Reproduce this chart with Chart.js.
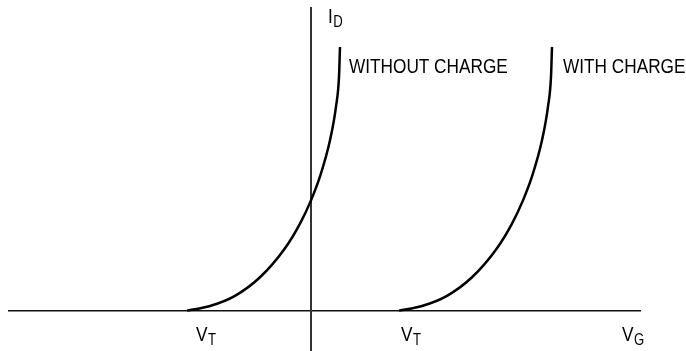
<!DOCTYPE html>
<html>
<head>
<meta charset="utf-8">
<title>I_D vs V_G</title>
<script src="https://cdn.jsdelivr.net/npm/chart.js@4/dist/chart.umd.min.js"></script>
<style>
    html, body { margin: 0; padding: 0; background: #fff; }
    #wrap { width: 686px; height: 351px; }
</style>
</head>
<body>
<div id="wrap"><canvas id="chart" width="686" height="351"></canvas></div>
<script>
// gate voltage (x) and drain current (y)
var vgWithout = [-12.4, -10.1, -7.6, -5.1, -2.6, -1.1, 0, 0.9, 1.9, 2.5, 2.8, 2.9];
var idWithout = [0, 0.46, 1.47, 3.31, 6.19, 8.63, 10.93, 13.3, 16.89, 20.23, 23.17, 26.13];
var vgWith = [8.8, 11.1, 13.6, 16.1, 18.6, 20.1, 21.2, 22.1, 23.1, 23.7, 24.0, 24.1];
var idWith = [0, 0.46, 1.47, 3.31, 6.19, 8.63, 10.93, 13.3, 16.89, 20.23, 23.17, 26.13];
var curveLabels = ['WITHOUT CHARGE', 'WITH CHARGE'];

var FONT = '"Liberation Sans", Arial, sans-serif';
var SQUEEZE = 0.82; // the original lettering is a condensed face

function toPoints(xs, ys) {
    var pts = [];
    for (var i = 0; i < xs.length; i++) pts.push({x: xs[i], y: ys[i]});
    return pts;
}

// condensed text: squeeze horizontally, returns drawn width
function narrowText(ctx, text, size, x, y) {
    ctx.font = size + 'px ' + FONT;
    ctx.save();
    ctx.translate(x, y);
    ctx.scale(SQUEEZE, 1);
    ctx.fillText(text, 0, 0);
    ctx.restore();
    return ctx.measureText(text).width * SQUEEZE;
}

// main letter with a subscript after it
function drawSub(ctx, main, sub, x, y) {
    var w = narrowText(ctx, main, 21, x, y);
    narrowText(ctx, sub, 16, x + w + 0.5, y + 4);
}

var labelPlugin = {
    id: 'labels',
    afterDraw: function(chart) {
        var ctx = chart.ctx;
        var sx = chart.scales.x, sy = chart.scales.y;
        var area = chart.chartArea;
        var zero = sy.getPixelForValue(0);
        ctx.save();
        ctx.fillStyle = '#000';
        ctx.textBaseline = 'alphabetic';
        ctx.textAlign = 'left';

        // axis names
        drawSub(ctx, 'I', 'D', sx.getPixelForValue(0) + 17, area.top + 15);
        drawSub(ctx, 'V', 'G', area.right - 18, zero + 30);

        // threshold marks under the start of each curve
        drawSub(ctx, 'V', 'T', sx.getPixelForValue(vgWithout[0]) + 9, zero + 30);
        drawSub(ctx, 'V', 'T', sx.getPixelForValue(vgWith[0]) + 2, zero + 30);

        // curve names beside the top of each curve
        var n = vgWithout.length - 1;
        narrowText(ctx, curveLabels[0], 21, sx.getPixelForValue(vgWithout[n]) + 9, sy.getPixelForValue(idWithout[n]) + 26);
        narrowText(ctx, curveLabels[1], 21, sx.getPixelForValue(vgWith[n]) + 11, sy.getPixelForValue(idWith[n]) + 26);
        ctx.restore();
    }
};

var ctx = document.getElementById('chart').getContext('2d');
var chart = new Chart(ctx, {
    type: 'line',
    data: {
        datasets: [
            {
                label: curveLabels[0],
                data: toPoints(vgWithout, idWithout),
                borderColor: '#000',
                borderWidth: 2.5,
                pointRadius: 0,
                cubicInterpolationMode: 'monotone',
                fill: false
            },
            {
                label: curveLabels[1],
                data: toPoints(vgWith, idWith),
                borderColor: '#000',
                borderWidth: 2.5,
                pointRadius: 0,
                cubicInterpolationMode: 'monotone',
                fill: false
            }
        ]
    },
    options: {
        responsive: false,
        animation: false,
        events: [],
        layout: { padding: { left: 9, right: 46, top: 8, bottom: 0 } },
        plugins: {
            legend: { display: false },
            tooltip: { enabled: false }
        },
        scales: {
            x: {
                type: 'linear',
                min: -30.2,
                max: 32.9,
                position: { y: 0 },
                ticks: { display: false },
                grid: { drawOnChartArea: false, drawTicks: false },
                border: { color: '#111', width: 1.5 }
            },
            y: {
                type: 'linear',
                min: -4,
                max: 30,
                position: { x: 0 },
                ticks: { display: false },
                grid: { drawOnChartArea: false, drawTicks: false },
                border: { color: '#333', width: 2 }
            }
        }
    },
    plugins: [labelPlugin]
});
</script>
</body>
</html>
